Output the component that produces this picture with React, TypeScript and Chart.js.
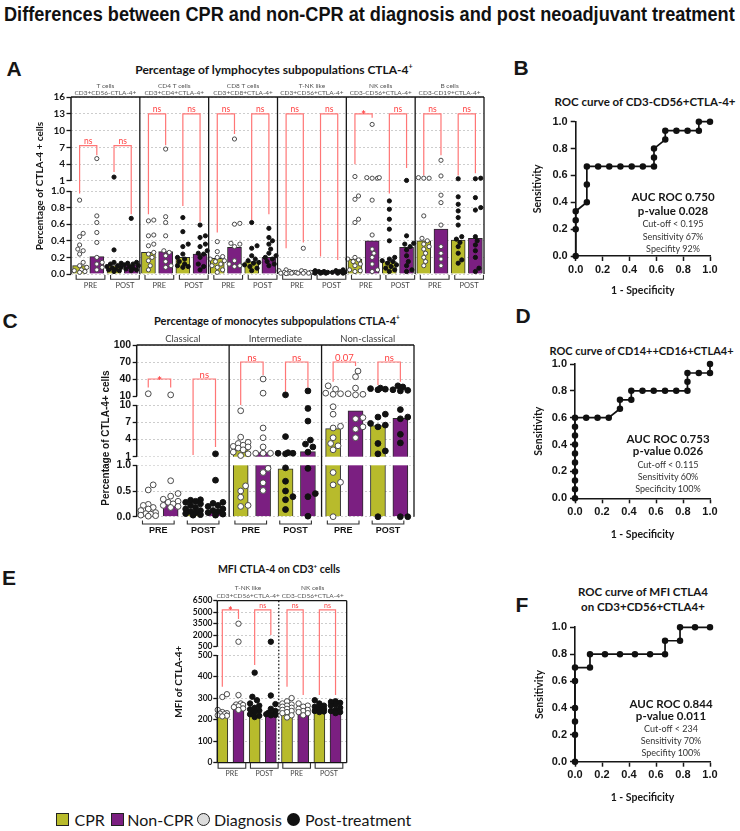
import React, { useEffect, useLayoutEffect, useRef } from 'react';
import { Chart, registerables } from 'chart.js';

Chart.register(...registerables);

const LATO = 'Lato, "Open Sans", "DejaVu Sans", sans-serif';
const ARIAL = '"Liberation Sans", Arial, sans-serif';
const NARROW = '"Liberation Sans Narrow", "Liberation Sans", Arial, sans-serif';

const YELLOW = '#b8bb2c';
const PURPLE = '#7b1f81';
const RED_LINE = '#ff7676';
const RED_TEXT = '#ff3f3f';
const INK = '#161616';

// ---------------- Panel A: lymphocyte subpopulations (% CTLA-4+) ----------------
const lymphGroupNames = ['T cells', 'CD4 T cells', 'CD8 T cells', 'T-NK like', 'NK cells', 'B cells'];
const lymphGroupPhenotypes = ['CD3+CD56-CTLA-4+', 'CD3+CD4+CTLA-4+', 'CD3+CD8+CTLA-4+', 'CD3+CD56+CTLA-4+', 'CD3-CD56+CTLA-4+', 'CD3-CD19+CTLA-4+'];
const lymphTimepoints = ['PRE', 'POST', 'PRE', 'POST', 'PRE', 'POST', 'PRE', 'POST', 'PRE', 'POST', 'PRE', 'POST'];
const lymphBarMeans = [0.10, 0.21, 0.10, 0.11, 0.26, 0.27, 0.20, 0.24, 0.19, 0.32, 0.15, 0.20, 0.02, 0.02, 0.02, 0.02, 0.18, 0.40, 0.15, 0.32, 0.40, 0.54, 0.41, 0.43];
const lymphPoints = [
  [0.89, 0.49, 0.45, 0.35, 0.30, 0.28, 0.24, 0.14, 0.10, 0.08, 0.05, 0.04, 0.03, 0.02],
  [5.0, 0.70, 0.62, 0.50, 0.38, 0.20, 0.14, 0.12, 0.08, 0.05],
  [1.7, 0.29, 0.14, 0.13, 0.12, 0.10, 0.09, 0.08, 0.07, 0.06, 0.05, 0.04, 0.03],
  [0.67, 0.14, 0.13, 0.12, 0.11, 0.10, 0.09, 0.07, 0.06, 0.05, 0.04],
  [0.65, 0.64, 0.47, 0.46, 0.36, 0.34, 0.26, 0.24, 0.20, 0.16, 0.10, 0.05],
  [6.7, 0.69, 0.62, 0.46, 0.28, 0.26, 0.22, 0.15, 0.10, 0.08],
  [0.68, 0.51, 0.36, 0.33, 0.24, 0.20, 0.18, 0.15, 0.12, 0.10, 0.09, 0.08],
  [0.59, 0.46, 0.44, 0.36, 0.33, 0.28, 0.25, 0.24, 0.20, 0.12, 0.09, 0.05],
  [0.39, 0.27, 0.21, 0.20, 0.18, 0.16, 0.15, 0.12, 0.10, 0.08, 0.05, 0.02],
  [8.5, 0.61, 0.60, 0.37, 0.36, 0.33, 0.16, 0.12, 0.10, 0.09],
  [0.62, 0.34, 0.31, 0.22, 0.18, 0.16, 0.14, 0.13, 0.11, 0.09, 0.07, 0.04],
  [0.55, 0.44, 0.40, 0.36, 0.30, 0.25, 0.22, 0.20, 0.18, 0.15, 0.12, 0.10],
  [0.05, 0.04, 0.03, 0.02, 0.02, 0.01, 0.01, 0.01, 0.005],
  [0.31, 0.04, 0.03, 0.02, 0.02, 0.01, 0.01, 0.01],
  [0.04, 0.03, 0.03, 0.02, 0.02, 0.02, 0.01, 0.01, 0.01],
  [0.05, 0.04, 0.03, 0.02, 0.02, 0.01, 0.01],
  [1.8, 0.94, 0.90, 0.66, 0.62, 0.20, 0.18, 0.17, 0.15, 0.12, 0.10, 0.05, 0.04, 0.03],
  [11.1, 1.5, 1.5, 1.6, 1.6, 0.89, 0.47, 0.30, 0.25, 0.20, 0.12, 0.05, 0.03],
  [0.88, 0.78, 0.66, 0.54, 0.40, 0.20, 0.18, 0.16, 0.15, 0.13, 0.11, 0.09, 0.07, 0.05, 0.03],
  [1.1, 0.46, 0.37, 0.36, 0.33, 0.29, 0.22, 0.15, 0.10, 0.05, 0.03],
  [1.5, 1.5, 1.6, 0.70, 0.43, 0.40, 0.36, 0.33, 0.30, 0.25, 0.20, 0.15, 0.10],
  [4.7, 1.9, 0.95, 0.86, 0.59, 0.33, 0.25, 0.18, 0.10],
  [1.4, 0.93, 0.84, 0.76, 0.68, 0.59, 0.45, 0.42, 0.38, 0.33, 0.25, 0.17, 0.13],
  [1.5, 1.4, 0.92, 0.80, 0.77, 0.45, 0.40, 0.35, 0.28, 0.20, 0.07, 0.03],
];
const lymphSigLabels = ['ns', 'ns', 'ns', 'ns', 'ns', 'ns', 'ns', 'ns', '*', 'ns', 'ns', 'ns'];
const lymphSigLeft = [0.97, 2.6, 0.72, 0.82, 0.5, 0.65, 0.31, 0.21, 4.0, 0.97, 2.0, 2.0];
const lymphSigRight = [5.6, 0.72, 7.4, 0.63, 9.4, 0.72, 0.38, 0.17, 12.3, 3.3, 5.6, 2.4];
const lymphSigTop = [7.3, 7.3, 13, 13, 13, 13, 13, 13, 13, 13, 13, 13];
const lymphTickSeg = [0, 0, 0, 0, 0, 0, 1, 1, 1, 1, 1, 1];
const lymphTickVals = [0, 0.2, 0.4, 0.6, 0.8, 1.0, 1, 4, 7, 10, 13, 16];
const lymphTickLabels = ['0.0', '0.2', '0.4', '0.6', '0.8', '1.0', '1', '4', '7', '10', '13', '16'];

// ---------------- Panel C: monocyte subpopulations ----------------
const monoGroupNames = ['Classical', 'Intermediate', 'Non-classical'];
const monoTimepoints = ['PRE', 'POST', 'PRE', 'POST', 'PRE', 'POST'];
const monoBarMeans = [0.07, 0.30, 0.14, 0.12, 2.3, 1.7, 0.93, 1.87, 5.9, 9.0, 6.4, 7.7];
const monoPoints = [
  [14, 0.62, 0.52, 0.24, 0.22, 0.18, 0.15, 0.12, 0.08, 0.06, 0.05, 0.03, 0.02, 0.01],
  [12, 0.70, 0.45, 0.40, 0.34, 0.30, 0.28, 0.25, 0.22, 0.20, 0.18],
  [0.33, 0.32, 0.30, 0.28, 0.25, 0.22, 0.18, 0.15, 0.12, 0.10, 0.08, 0.06, 0.04, 0.03],
  [1.5, 0.71, 0.28, 0.26, 0.22, 0.20, 0.15, 0.12, 0.10, 0.08, 0.05, 0.03],
  [9.0, 4.4, 3.5, 3.3, 3.0, 2.8, 2.7, 2.5, 2.2, 1.8, 1.5, 1.2, 0.6, 0.5, 0.38, 0.22, 0.2],
  [40, 15, 6.0, 4.3, 2.7, 1.6, 1.6, 1.6, 0.94, 0.86, 0.66, 0.51],
  [12, 4.5, 1.7, 1.6, 1.5, 1.6, 0.95, 0.69, 0.5, 0.39, 0.33, 0.14],
  [19, 9.4, 7.2, 3.9, 3.2, 2.7, 1.8, 0.94, 0.45, 0.39, 0.01],
  [28, 22, 13, 14, 15, 9.7, 8.4, 6.3, 6.0, 4.3, 3.3, 2.9, 2.2, 0.86, 0.67, 0.62, 0],
  [54, 44, 24, 13, 12, 14, 7.8, 7.6, 6.2, 5.8, 4.3],
  [24, 22, 23, 21, 8.4, 7.9, 6.8, 6.5, 6.2, 3.3, 2.0, 1.5, 0],
  [28, 26, 21, 20, 19, 9.2, 7.9, 7.6, 4.9, 3.4, 0, 0],
];
const monoSigLabels = ['*', 'ns', 'ns', 'ns', '0.07', 'ns'];
const monoSigLeft = [25, 1.3, 10, 17.6, 35, 29.4];
const monoSigRight = [25, 2.7, 47, 25, 63, 35];
const monoSigTop = [40, 40, 70, 70, 70, 70];
const monoTickSeg = [0, 0, 0, 1, 1, 1, 1, 2, 2, 2, 2];
const monoTickVals = [0, 0.5, 1.0, 1, 4, 7, 10, 10, 40, 70, 100];
const monoTickLabels = ['0.0', '0.5', '1.0', '1', '4', '7', '10', '10', '40', '70', '100'];

// ---------------- Panel E: MFI CTLA-4 ----------------
const mfiGroupNames = ['T-NK like', 'NK cells'];
const mfiGroupPhenotypes = ['CD3+CD56+CTLA-4+', 'CD3-CD56+CTLA-4+'];
const mfiTimepoints = ['PRE', 'POST', 'PRE', 'POST'];
const mfiBarMeans = [225, 275, 245, 221, 252, 241, 248, 237];
const mfiPoints = [
  [318, 305, 245, 235, 230, 228, 225, 220, 218, 215],
  [3500, 1150, 314, 275, 270, 268, 262, 258, 252, 245],
  [418, 306, 290, 275, 265, 255, 248, 242, 235, 225, 218, 212],
  [1150, 312, 272, 250, 240, 232, 228, 225, 222, 220],
  [300, 285, 275, 270, 265, 260, 255, 250, 245, 240, 235, 230, 220, 210],
  [275, 265, 260, 250, 245, 240, 235, 230, 220],
  [290, 275, 265, 260, 255, 250, 248, 245, 240, 238, 235],
  [285, 282, 278, 270, 265, 255, 245, 240, 235, 230],
];
const mfiSigLabels = ['*', 'ns', 'ns', 'ns'];
const mfiSigLeft = [353, 453, 353, 314];
const mfiSigRight = [4100, 2020, 314, 314];
const mfiSigTop = [5300, 5300, 5300, 5300];
const mfiTickSeg = [0, 0, 0, 0, 0, 0, 1, 1, 1, 1, 1];
const mfiTickVals = [0, 100, 200, 300, 400, 500, 500, 2000, 3500, 5000, 6500];
const mfiTickLabels = ['0', '100', '200', '300', '400', '500', '500', '2000', '3500', '5000', '6500'];

// ---------------- ROC curves ----------------
const rocTickValues = [0, 0.2, 0.4, 0.6, 0.8, 1.0];
const rocTickLabels = ['0.0', '0.2', '0.4', '0.6', '0.8', '1.0'];
const rocBX = [0, 0, 0, 0, 0.083, 0.083, 0.083, 0.167, 0.25, 0.333, 0.417, 0.5, 0.583, 0.583, 0.583, 0.667, 0.667, 0.75, 0.833, 0.917, 0.917, 1.0];
const rocBY = [0, 0.2, 0.267, 0.333, 0.4, 0.533, 0.667, 0.667, 0.667, 0.667, 0.667, 0.667, 0.667, 0.733, 0.8, 0.867, 0.933, 0.933, 0.933, 0.933, 1.0, 1.0];
const rocDX = [0, 0, 0, 0, 0, 0, 0, 0, 0, 0, 0.083, 0.167, 0.25, 0.333, 0.333, 0.417, 0.417, 0.5, 0.583, 0.667, 0.75, 0.833, 0.833, 0.833, 0.917, 1.0, 1.0];
const rocDY = [0, 0.067, 0.133, 0.2, 0.267, 0.333, 0.4, 0.467, 0.533, 0.6, 0.6, 0.6, 0.6, 0.667, 0.733, 0.733, 0.8, 0.8, 0.8, 0.8, 0.8, 0.8, 0.867, 0.933, 0.933, 0.933, 1.0];
const rocFX = [0, 0, 0, 0, 0, 0, 0.111, 0.111, 0.222, 0.333, 0.444, 0.556, 0.667, 0.667, 0.778, 0.778, 0.889, 1.0];
const rocFY = [0, 0.2, 0.3, 0.4, 0.6, 0.7, 0.7, 0.8, 0.8, 0.8, 0.8, 0.8, 0.8, 0.9, 0.9, 1.0, 1.0, 1.0];
const rocBStats = ['AUC ROC 0.750', 'p-value 0.028', 'Cut-off < 0.195', 'Sensitivity 67%', 'Specifity 92%'];
const rocDStats = ['AUC ROC 0.753', 'p-value 0.026', 'Cut-off < 0.115', 'Sensitivity 60%', 'Specificity 100%'];
const rocFStats = ['AUC ROC 0.844', 'p-value 0.011', 'Cut-off < 234', 'Sensitivity 70%', 'Specifity 100%'];

const legendLabels = ['CPR', 'Non-CPR', 'Diagnosis', 'Post-treatment'];

// ---------------- helpers ----------------
type Seg = { lo: number; hi: number; len: number };

function makeVirtual(segs: Seg[], gaps: number[]) {
  const starts: number[] = [];
  let acc = 0;
  segs.forEach((s, i) => {
    starts.push(acc);
    acc += s.len + (i < gaps.length ? gaps[i] : 0);
  });
  const total = starts[segs.length - 1] + segs[segs.length - 1].len;
  const onSeg = (i: number, v: number) => starts[i] + ((v - segs[i].lo) / (segs[i].hi - segs[i].lo)) * segs[i].len;
  const V = (v: number) => {
    for (let i = 0; i < segs.length; i++) if (v <= segs[i].hi || i === segs.length - 1) return onSeg(i, v);
    return 0;
  };
  return { starts, total, V, onSeg };
}

function swarmOffsets(ys: number[], r: number, maxOff: number): number[] {
  const order = ys.map((_, i) => i).sort((a, b) => ys[a] - ys[b]);
  const placed: { x: number; y: number }[] = [];
  const out = ys.map(() => 0);
  const minD = 2 * r + 0.3;
  const step = r * 0.85;
  for (const i of order) {
    const y = ys[i];
    let chosen = 0;
    let bestDist = -1;
    for (let k = 0; k < 80; k++) {
      const c = (k % 2 === 1 ? 1 : -1) * Math.ceil(k / 2) * step;
      if (Math.abs(c) > maxOff) break;
      let md = Infinity;
      for (const p of placed) {
        const d = Math.hypot(p.x - c, p.y - y);
        if (d < md) md = d;
      }
      if (md >= minD) { chosen = c; bestDist = md; break; }
      if (md > bestDist) { bestDist = md; chosen = c; }
    }
    placed.push({ x: chosen, y });
    out[i] = chosen;
  }
  return out;
}

function BarPanel({ cfg }: { cfg: any }) {
  const ref = useRef<HTMLCanvasElement | null>(null);
  useEffect(() => {
    const c = cfg;
    const { starts, total, V, onSeg } = makeVirtual(c.segs, c.gaps);
    const tickPos = c.tickVals.map((v: number, i: number) => onSeg(c.tickSeg[i], v));
    const pxPerX = (c.area.r - c.area.l) / c.xMax;
    const barData = c.means.map((m: number, i: number) => ({ x: c.barX[i], y: V(m) }));
    const colors = c.means.map((_: number, i: number) => (i % 2 === 0 ? YELLOW : PURPLE));
    const openPts: any[] = [];
    const filledPts: any[] = [];
    c.points.forEach((vals: number[], i: number) => {
      const ys = vals.map(V);
      const offs = swarmOffsets(ys, c.pointR, c.barW / 2 + c.pointR * 0.5);
      const post = c.pairLabels[Math.floor(i / 2)] === 'POST';
      ys.forEach((y: number, j: number) => (post ? filledPts : openPts).push({ x: c.barX[i] + offs[j] / pxPerX, y }));
    });
    const ox = c.rect.left;
    const oy = c.rect.top;
    const line = (ctx: any, x0: number, y0: number, x1: number, y1: number) => {
      ctx.beginPath(); ctx.moveTo(x0, y0); ctx.lineTo(x1, y1); ctx.stroke();
    };
    const deco = {
      id: 'deco',
      afterDatasetDraw(chart: any, args: any) {
        if (args.index !== 0) return;
        const { ctx, chartArea: a } = chart;
        const x = chart.scales.x;
        const y = chart.scales.y;
        ctx.save();
        ctx.fillStyle = '#ffffff';
        c.gaps.forEach((_g: number, i: number) => {
          const yLow = y.getPixelForValue(starts[i] + c.segs[i].len);
          const yHigh = y.getPixelForValue(starts[i + 1]);
          ctx.fillRect(a.left + 1, yHigh, a.right - a.left - 1, yLow - yHigh);
        });
        ctx.lineWidth = 1.2;
        ctx.strokeStyle = RED_LINE;
        ctx.fillStyle = RED_TEXT;
        ctx.textAlign = 'center';
        c.sigLabels.forEach((lab: string, k: number) => {
          const xl = x.getPixelForValue(c.barX[2 * k]);
          const xr = x.getPixelForValue(c.barX[2 * k + 1]);
          const yl = y.getPixelForValue(V(c.sigLeft[k]));
          const yr = y.getPixelForValue(V(c.sigRight[k]));
          const yt = y.getPixelForValue(V(c.sigTop[k]));
          ctx.beginPath(); ctx.moveTo(xl, yl); ctx.lineTo(xl, yt); ctx.lineTo(xr, yt); ctx.lineTo(xr, yr); ctx.stroke();
          ctx.textBaseline = 'alphabetic';
          if (lab === '*') {
            ctx.font = `bold ${c.starSize}px ${LATO}`;
            ctx.fillText('*', (xl + xr) / 2, yt - 1 + c.starSize * 0.55);
          } else {
            ctx.font = `${c.sigSize}px ${LATO}`;
            ctx.fillText(lab, (xl + xr) / 2, yt - 1.5);
          }
        });
        ctx.restore();
      },
      afterDatasetsDraw(chart: any) {
        const { ctx, chartArea: a } = chart;
        const x = chart.scales.x;
        const y = chart.scales.y;
        ctx.save();
        ctx.strokeStyle = INK;
        ctx.lineWidth = 1.3;
        line(ctx, a.left, a.top, a.right, a.top);
        line(ctx, a.right, a.top, a.right, a.bottom);
        if (c.baseline) line(ctx, a.left, a.bottom, a.right, a.bottom);
        ctx.setLineDash(c.dividerDash);
        c.dividers.forEach((d: number) => {
          const px = x.getPixelForValue(d);
          line(ctx, px, a.top, px, a.bottom);
        });
        ctx.setLineDash([]);
        ctx.lineWidth = 1.5;
        c.segs.forEach((s: Seg, i: number) => line(ctx, a.left, y.getPixelForValue(starts[i]), a.left, y.getPixelForValue(starts[i] + s.len)));
        ctx.fillStyle = c.headerColor;
        ctx.textAlign = 'center';
        ctx.textBaseline = 'middle';
        ctx.font = c.headerFont;
        c.headers.forEach((lines: string[], g: number) => {
          const cx = x.getPixelForValue((c.groupBounds[g] + c.groupBounds[g + 1]) / 2);
          lines.forEach((t: string, j: number) => ctx.fillText(t, cx, a.top - c.headerYs[j]));
        });
        ctx.strokeStyle = '#333';
        ctx.lineWidth = 1.1;
        ctx.font = c.pairFont;
        ctx.fillStyle = c.pairColor;
        c.pairLabels.forEach((lab: string, k: number) => {
          const x0 = x.getPixelForValue(c.barX[2 * k] + c.pairSpan[0]);
          const x1 = x.getPixelForValue(c.barX[2 * k + 1] + c.pairSpan[1]);
          const yb = a.bottom + c.pairDy;
          ctx.beginPath(); ctx.moveTo(x0, yb - c.pairH); ctx.lineTo(x0, yb); ctx.lineTo(x1, yb); ctx.lineTo(x1, yb - c.pairH); ctx.stroke();
          ctx.fillText(lab, (x0 + x1) / 2, a.bottom + c.pairLabelDy);
        });
        ctx.save();
        ctx.translate(c.yTitleX - ox, c.yTitleY - oy);
        ctx.rotate(-Math.PI / 2);
        ctx.font = c.yTitleFont;
        ctx.fillStyle = INK;
        ctx.fillText(c.yTitle, 0, 0);
        ctx.restore();
        ctx.restore();
      },
    };
    const chart = new Chart(ref.current as HTMLCanvasElement, {
      type: 'bar',
      data: {
        datasets: [
          { type: 'bar', data: barData, backgroundColor: colors, borderColor: '#2b2b2b', borderWidth: 1, barThickness: c.barW, order: 2, grouped: false } as any,
          { type: 'scatter', data: openPts, pointRadius: c.pointR, pointBackgroundColor: '#ffffff', pointBorderColor: '#4a4a4a', pointBorderWidth: 1, order: 1, clip: false } as any,
          { type: 'scatter', data: filledPts, pointRadius: c.pointR, pointBackgroundColor: '#111111', pointBorderColor: '#111111', pointBorderWidth: 1, order: 1, clip: false } as any,
        ],
      },
      options: {
        responsive: false,
        animation: false,
        events: [],
        layout: {
          autoPadding: false,
          padding: { left: 0, top: c.area.t - oy, right: ox + c.rect.w - c.area.r, bottom: oy + c.rect.h - c.area.b },
        },
        plugins: { legend: { display: false }, tooltip: { enabled: false }, title: { display: false } },
        scales: {
          x: { type: 'linear', min: 0, max: c.xMax, display: false, offset: false },
          y: {
            type: 'linear',
            min: 0,
            max: total,
            afterFit: (s: any) => { s.width = c.area.l - ox; },
            afterBuildTicks: (s: any) => { s.ticks = tickPos.map((v: number) => ({ value: v })); },
            ticks: { autoSkip: false, callback: (_v: any, i: number) => c.tickLabels[i], font: c.tickFont, color: INK, padding: c.tickPad },
            grid: { color: '#cdcdcd', lineWidth: 1, drawTicks: true, tickLength: c.tickLen, tickColor: INK, tickWidth: 1.3 },
            border: { display: false, dash: [2, 2] },
          },
        },
      } as any,
      plugins: [deco],
    });
    return () => chart.destroy();
  }, []);
  return <canvas ref={ref} width={cfg.rect.w} height={cfg.rect.h} style={{ position: 'absolute', left: cfg.rect.left, top: cfg.rect.top }} />;
}

function RocPanel({ cfg }: { cfg: any }) {
  const ref = useRef<HTMLCanvasElement | null>(null);
  useEffect(() => {
    const c = cfg;
    const tickSize = 11;
    const tlh = tickSize * 1.2;
    const titleSize = 10.5;
    const lh = titleSize * 1.2;
    const chart = new Chart(ref.current as HTMLCanvasElement, {
      type: 'scatter',
      data: {
        datasets: [{
          data: c.xs.map((x: number, i: number) => ({ x, y: c.ys[i] })),
          showLine: true, borderColor: '#111', borderWidth: 1.7, pointRadius: 2.4,
          pointBackgroundColor: '#111', pointBorderColor: '#111', clip: false, tension: 0,
        } as any],
      },
      options: {
        responsive: false,
        animation: false,
        events: [],
        layout: { autoPadding: false, padding: { left: 0, top: c.area.t - c.rect.top, right: c.rect.left + c.rect.w - c.area.r, bottom: 0 } },
        plugins: { legend: { display: false }, tooltip: { enabled: false } },
        scales: {
          x: {
            type: 'linear', min: 0, max: 1,
            afterFit: (s: any) => { s.height = c.rect.top + c.rect.h - c.area.b; },
            afterBuildTicks: (s: any) => { s.ticks = rocTickValues.map((v) => ({ value: v })); },
            ticks: { autoSkip: false, maxRotation: 0, callback: (_v: any, i: number) => rocTickLabels[i], font: { family: ARIAL, size: tickSize, weight: 'bold' }, color: INK, padding: c.xTickY - c.area.b - 5 - tlh / 2 },
            grid: { drawOnChartArea: false, drawTicks: true, tickLength: 5, tickColor: INK, tickWidth: 1.5 },
            border: { display: true, color: INK, width: 1.6 },
            title: { display: true, text: '1 - Specificity', font: { family: LATO, size: titleSize, weight: 'bold' }, color: INK, padding: { top: 0, bottom: c.rect.top + c.rect.h - lh / 2 - c.xTitleY } },
          },
          y: {
            type: 'linear', min: 0, max: 1,
            afterFit: (s: any) => { s.width = c.area.l - c.rect.left; },
            afterBuildTicks: (s: any) => { s.ticks = rocTickValues.map((v) => ({ value: v })); },
            ticks: { autoSkip: false, callback: (_v: any, i: number) => rocTickLabels[i], font: { family: ARIAL, size: tickSize, weight: 'bold' }, color: INK, padding: 3 },
            grid: { drawOnChartArea: false, drawTicks: true, tickLength: 5, tickColor: INK, tickWidth: 1.5 },
            border: { display: true, color: INK, width: 1.6 },
            title: { display: true, text: 'Sensitivity', font: { family: LATO, size: titleSize, weight: 'bold' }, color: INK, padding: { top: c.yTitleX - c.rect.left - lh / 2, bottom: 0 } },
          },
        },
      } as any,
    });
    return () => chart.destroy();
  }, []);
  return <canvas ref={ref} width={cfg.rect.w} height={cfg.rect.h} style={{ position: 'absolute', left: cfg.rect.left, top: cfg.rect.top }} />;
}

function Txt({ x, y, size, weight = 400, family = LATO, color = INK, children }: any) {
  return (
    <div style={{ position: 'absolute', left: x, top: y, transform: 'translate(-50%, -50%)', fontSize: size, fontWeight: weight, fontFamily: family, color, whiteSpace: 'nowrap', lineHeight: 1 }}>
      {children}
    </div>
  );
}

function LTxt({ x, y, children }: any) {
  return (
    <div style={{ position: 'absolute', left: x, top: y, transform: 'translateY(-50%)', fontSize: 16, fontFamily: LATO, lineHeight: 1, whiteSpace: 'nowrap', color: INK }}>
      {children}
    </div>
  );
}

function FitTitle({ text, left, width, cy }: any) {
  const ref = useRef<HTMLSpanElement | null>(null);
  useLayoutEffect(() => {
    const el = ref.current;
    if (!el) return;
    const w = el.offsetWidth;
    el.style.transform = `translateY(-50%) scaleX(${width / w})`;
  }, []);
  return (
    <span ref={ref} style={{ position: 'absolute', left, top: cy, transformOrigin: 'left center', whiteSpace: 'nowrap', fontFamily: NARROW, fontWeight: 700, fontSize: 20, lineHeight: 1, display: 'inline-block', color: '#111' }}>
      {text}
    </span>
  );
}

const supStyle: any = { fontSize: '0.6em', verticalAlign: 'super', lineHeight: 0 };

export default function App() {
  const cfgA = {
    rect: { left: 0, top: 60, w: 500, h: 240 },
    area: { l: 71, t: 97, r: 484, b: 274 },
    segs: [{ lo: 0, hi: 1, len: 83 }, { lo: 1, hi: 16, len: 84 }],
    gaps: [10],
    tickSeg: lymphTickSeg, tickVals: lymphTickVals, tickLabels: lymphTickLabels,
    tickLen: 4.5, tickPad: 1.5, tickFont: { family: LATO, size: 10, weight: 'bold' },
    xMax: 24,
    barX: lymphBarMeans.map((_, i) => Math.floor(i / 4) * 4 + (i % 4) + 0.5),
    barW: 14,
    means: lymphBarMeans, points: lymphPoints, pairLabels: lymphTimepoints,
    dividers: [4, 8, 12, 16, 20], dividerDash: [], groupBounds: [0, 4, 8, 12, 16, 20, 24],
    headers: lymphGroupNames.map((n, i) => [n, lymphGroupPhenotypes[i]]),
    headerYs: [11.5, 4.5], headerFont: `6.5px ${LATO}`, headerColor: '#555',
    pairSpan: [-0.2, 0.47], pairDy: 5.3, pairH: 4.3, pairLabelDy: 11.5, pairFont: `7.5px ${LATO}`, pairColor: '#444',
    sigLabels: lymphSigLabels, sigLeft: lymphSigLeft, sigRight: lymphSigRight, sigTop: lymphSigTop, sigSize: 8.5, starSize: 12,
    yTitle: 'Percentage of CTLA-4 + cells', yTitleX: 40, yTitleY: 186, yTitleFont: `bold 10px ${LATO}`,
    pointR: 2.1, baseline: false,
  };
  const cfgC = {
    rect: { left: 0, top: 330, w: 430, h: 215 },
    area: { l: 136.7, t: 345, r: 414, b: 516.7 },
    segs: [{ lo: 0, hi: 1, len: 51.4 }, { lo: 1, hi: 10, len: 51.7 }, { lo: 10, hi: 100, len: 51 }],
    gaps: [8.6, 9],
    tickSeg: monoTickSeg, tickVals: monoTickVals, tickLabels: monoTickLabels,
    tickLen: 4, tickPad: 1.5, tickFont: { family: ARIAL, size: 10.5, weight: 'bold' },
    xMax: 12,
    barX: monoBarMeans.map((_, i) => Math.floor(i / 4) * 4 + 0.5 + (i % 4) * 0.97),
    barW: 15,
    means: monoBarMeans, points: monoPoints, pairLabels: monoTimepoints,
    dividers: [4, 8], dividerDash: [], groupBounds: [0, 4, 8, 12],
    headers: monoGroupNames.map((n) => [n]),
    headerYs: [5.7], headerFont: `9.5px ${LATO}`, headerColor: '#444',
    pairSpan: [-0.25, 0.15], pairDy: 7.3, pairH: 3.5, pairLabelDy: 13.5, pairFont: `bold 9px ${ARIAL}`, pairColor: '#111',
    sigLabels: monoSigLabels, sigLeft: monoSigLeft, sigRight: monoSigRight, sigTop: monoSigTop, sigSize: 9.5, starSize: 12,
    yTitle: 'Percentage of CTLA-4+ cells', yTitleX: 106, yTitleY: 438, yTitleFont: `bold 10px ${ARIAL}`,
    pointR: 2.9, baseline: false,
  };
  const cfgE = {
    rect: { left: 100, top: 560, w: 260, h: 225 },
    area: { l: 217.3, t: 600.7, r: 346.7, b: 762.7 },
    segs: [{ lo: 0, hi: 500, len: 107.7 }, { lo: 500, hi: 6500, len: 46 }],
    gaps: [8.3],
    tickSeg: mfiTickSeg, tickVals: mfiTickVals, tickLabels: mfiTickLabels,
    tickLen: 4, tickPad: 0.8, tickFont: { family: LATO, size: 8.5, weight: 'bold' },
    xMax: 8,
    barX: mfiBarMeans.map((_, i) => i + 0.31),
    barW: 11,
    means: mfiBarMeans, points: mfiPoints, pairLabels: mfiTimepoints,
    dividers: [3.8], dividerDash: [1.5, 2], groupBounds: [0, 3.8, 8],
    headers: mfiGroupNames.map((n, i) => [n, mfiGroupPhenotypes[i]]),
    headerYs: [12.4, 4.7], headerFont: `6.5px ${LATO}`, headerColor: '#555',
    pairSpan: [-0.26, 0.45], pairDy: 5.6, pairH: 5.6, pairLabelDy: 11, pairFont: `7px ${LATO}`, pairColor: '#444',
    sigLabels: mfiSigLabels, sigLeft: mfiSigLeft, sigRight: mfiSigRight, sigTop: mfiSigTop, sigSize: 7, starSize: 11,
    yTitle: 'MFI of CTLA-4+', yTitleX: 178.3, yTitleY: 681.7, yTitleFont: `bold 10px ${LATO}`,
    pointR: 2.7, baseline: true,
  };
  const cfgB = { rect: { left: 500, top: 80, w: 240, h: 225 }, area: { l: 575.7, t: 121.7, r: 710, b: 256 }, xs: rocBX, ys: rocBY, yTitleX: 538, xTitleY: 290.7, xTickY: 269.7 };
  const cfgD = { rect: { left: 500, top: 320, w: 240, h: 225 }, area: { l: 575, t: 364, r: 710, b: 498.3 }, xs: rocDX, ys: rocDY, yTitleX: 538.3, xTitleY: 535, xTickY: 512 };
  const cfgF = { rect: { left: 500, top: 615, w: 240, h: 195 }, area: { l: 575, t: 627.3, r: 710, b: 761.7 }, xs: rocFX, ys: rocFY, yTitleX: 540, xTitleY: 797.3, xTickY: 775 };

  const statBlock = (lines: string[], cx: number, ys: number[]) =>
    lines.map((t, i) => (
      <Txt key={t} x={cx} y={ys[i]} size={i < 2 ? 11.5 : 9} weight={i < 2 ? 700 : 400} color={i < 2 ? '#161616' : '#333'}>{t}</Txt>
    ));

  return (
    <div style={{ position: 'absolute', left: 0, top: 0, width: 740, height: 831, background: '#fff', overflow: 'hidden' }}>
      <FitTitle text="Differences between CPR and non-CPR at diagnosis and post neoadjuvant treatment" left={4} width={731} cy={14} />

      <Txt x={14} y={68} size={21} weight={700} family={ARIAL}>A</Txt>
      <Txt x={521} y={67} size={21} weight={700} family={ARIAL}>B</Txt>
      <Txt x={10} y={320} size={21} weight={700} family={ARIAL}>C</Txt>
      <Txt x={523} y={315} size={21} weight={700} family={ARIAL}>D</Txt>
      <Txt x={9} y={577} size={21} weight={700} family={ARIAL}>E</Txt>
      <Txt x={522} y={604} size={21} weight={700} family={ARIAL}>F</Txt>

      <Txt x={274} y={70} size={12} weight={700}>Percentage of lymphocytes subpopulations CTLA-4<span style={supStyle}>+</span></Txt>
      <Txt x={277} y={320} size={11} weight={700}>Percentage of monocytes subpopulations CTLA-4<span style={supStyle}>+</span></Txt>
      <Txt x={279} y={569} size={10.5} weight={700}>MFI CTLA-4 on CD3<span style={supStyle}>+</span> cells</Txt>

      <Txt x={645} y={102} size={11.5} weight={700}>ROC curve of CD3-CD56+CTLA-4+</Txt>
      <Txt x={641.5} y={350} size={11} weight={700}>ROC curve of CD14++CD16+CTLA4+</Txt>
      <Txt x={643} y={592.3} size={11.5} weight={700}>ROC curve of MFI CTLA4</Txt>
      <Txt x={643} y={606.7} size={11.5} weight={700}>on CD3+CD56+CTLA4+</Txt>

      <BarPanel cfg={cfgA} />
      <BarPanel cfg={cfgC} />
      <BarPanel cfg={cfgE} />
      <RocPanel cfg={cfgB} />
      <RocPanel cfg={cfgD} />
      <RocPanel cfg={cfgF} />

      {statBlock(rocBStats, 673, [197, 211, 223.3, 235.5, 248])}
      {statBlock(rocDStats, 668, [439, 451, 464, 475.5, 487.7])}
      {statBlock(rocFStats, 671, [704, 716, 727.7, 740, 752.3])}

      <div style={{ position: 'absolute', left: 56, top: 813, width: 11, height: 11, background: YELLOW, border: '1px solid #222' }} />
      <LTxt x={74.5} y={820}>{legendLabels[0]}</LTxt>
      <div style={{ position: 'absolute', left: 111, top: 813, width: 11, height: 11, background: PURPLE, border: '1px solid #222' }} />
      <LTxt x={127.3} y={820}>{legendLabels[1]}</LTxt>
      <div style={{ position: 'absolute', left: 197, top: 813, width: 11, height: 11, borderRadius: '50%', background: '#dcdcdc', border: '1px solid #222' }} />
      <LTxt x={214} y={820}>{legendLabels[2]}</LTxt>
      <div style={{ position: 'absolute', left: 287, top: 813, width: 13, height: 13, borderRadius: '50%', background: '#111' }} />
      <LTxt x={305} y={820}>{legendLabels[3]}</LTxt>
    </div>
  );
}
